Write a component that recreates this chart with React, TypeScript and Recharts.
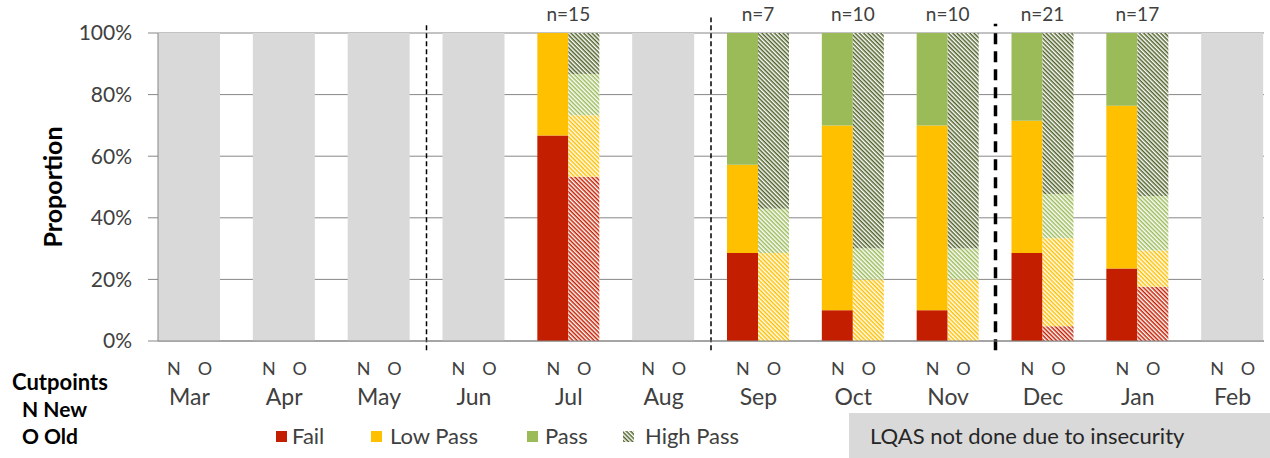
import React from 'react';
import { BarChart, Bar, XAxis, YAxis, CartesianGrid, ReferenceLine, LabelList, Cell } from 'recharts';

const months = ['Mar', 'Apr', 'May', 'Jun', 'Jul', 'Aug', 'Sep', 'Oct', 'Nov', 'Dec', 'Jan', 'Feb'];
const sampleSizes: (number | null)[] = [null, null, null, null, 15, null, 7, 10, 10, 21, 17, null];

// new cutpoints (N), percent
const newFail = [0, 0, 0, 0, 66.7, 0, 28.6, 10, 10, 28.6, 23.5, 0];
const newLow = [0, 0, 0, 0, 33.3, 0, 28.6, 60, 60, 42.9, 52.9, 0];
const newPass = [0, 0, 0, 0, 0, 0, 42.8, 30, 30, 28.5, 23.6, 0];

// old cutpoints (O), percent
const oldFail = [0, 0, 0, 0, 53.3, 0, 0, 0, 0, 4.8, 17.6, 0];
const oldLow = [0, 0, 0, 0, 20, 0, 28.6, 20, 20, 28.6, 11.8, 0];
const oldPass = [0, 0, 0, 0, 13.4, 0, 14.3, 10, 10, 14.3, 17.7, 0];
const oldHigh = [0, 0, 0, 0, 13.3, 0, 57.1, 70, 70, 52.3, 52.9, 0];

const yTicks = [0, 20, 40, 60, 80, 100];

const FONT = 'Lato, "Open Sans", sans-serif';
const TEXT = '#404040';
const RED = '#C41E00';
const YELLOW = '#FFC000';
const GREEN = '#9BBB59';
const DARK = '#4F6228';
const GRAY = '#D9D9D9';
const AXIS = '#878787';

const chartData = months.map((m, i) => ({
    month: m,
    bg: 100,
    nLabel: sampleSizes[i] ? `n=${sampleSizes[i]}` : '',
    newFail: newFail[i],
    newLow: newLow[i],
    newPass: newPass[i],
    oldFail: oldFail[i],
    oldLow: oldLow[i],
    oldPass: oldPass[i],
    oldHigh: oldHigh[i],
}));

const Hatch = ({ id, color }: { id: string; color: string }) => (
    <pattern id={id} patternUnits="userSpaceOnUse" width="3" height="3" patternTransform="rotate(45)">
        <rect width="3" height="3" fill="#fff" />
        <rect width="3" height="1.5" fill={color} />
    </pattern>
);

const MonthTick = (props: any) => {
    const { x, y, payload } = props;
    return (
        <g fontFamily={FONT} fill={TEXT}>
            <text x={x - 15.5} y={y + 27} textAnchor="middle" dominantBaseline="central" fontSize={18} fill={TEXT}>N</text>
            <text x={x + 15.5} y={y + 27} textAnchor="middle" dominantBaseline="central" fontSize={18} fill={TEXT}>O</text>
            <text x={x} y={y + 55} textAnchor="middle" dominantBaseline="central" fontSize={23} fill={TEXT}>{payload.value}</text>
        </g>
    );
};

const legendItems = [
    { label: 'Fail', fill: RED, left: 276, textLeft: 292 },
    { label: 'Low Pass', fill: YELLOW, left: 371, textLeft: 390 },
    { label: 'Pass', fill: GREEN, left: 527, textLeft: 545 },
    { label: 'High Pass', fill: 'url(#legendHatch)', left: 623, textLeft: 645 },
];

const lineText = (center: number, size: number): React.CSSProperties => ({
    position: 'absolute',
    top: center - 15,
    height: 30,
    lineHeight: '30px',
    fontSize: size,
    whiteSpace: 'nowrap',
});

export default function App() {
    return (
        <div style={{ position: 'fixed', left: 0, top: 0, width: 1270, height: 458, background: '#fff', overflow: 'hidden', fontFamily: FONT }}>
            <BarChart
                width={1270}
                height={458}
                data={chartData}
                margin={{ top: 33, right: 6, bottom: 57, left: 0 }}
                barGap={0}
            >
                <defs>
                    <Hatch id="hRed" color={RED} />
                    <Hatch id="hYellow" color={YELLOW} />
                    <Hatch id="hGreen" color={GREEN} />
                    <Hatch id="hDark" color={DARK} />
                </defs>
                <CartesianGrid xAxisId="main" vertical={false} stroke={AXIS} strokeWidth={1} />
                <XAxis
                    xAxisId="main"
                    dataKey="month"
                    height={60}
                    padding={{ left: -16, right: -16 }}
                    axisLine={{ stroke: AXIS }}
                    tickLine={false}
                    tickSize={0}
                    tickMargin={0}
                    tick={<MonthTick />}
                    interval={0}
                />
                <XAxis xAxisId="bg" dataKey="month" hide height={0} padding={{ left: -16, right: -16 }} />
                <YAxis
                    width={158}
                    domain={[0, 100]}
                    ticks={yTicks}
                    tickFormatter={(v: number) => `${v}%`}
                    axisLine={{ stroke: AXIS }}
                    tickLine={{ stroke: AXIS }}
                    tickSize={10}
                    tickMargin={16}
                    tick={{ fontSize: 21, fill: TEXT, fontFamily: FONT }}
                />

                <Bar xAxisId="bg" dataKey="bg" barSize={62} isAnimationActive={false}>
                    {chartData.map((d, i) => (
                        <Cell key={i} fill={d.nLabel ? 'transparent' : GRAY} />
                    ))}
                    <LabelList dataKey="nLabel" position="top" offset={12} fill={TEXT} fontSize={19} fontFamily={FONT} />
                </Bar>

                <Bar xAxisId="main" dataKey="newFail" stackId="N" barSize={31} fill={RED} isAnimationActive={false} />
                <Bar xAxisId="main" dataKey="newLow" stackId="N" barSize={31} fill={YELLOW} isAnimationActive={false} />
                <Bar xAxisId="main" dataKey="newPass" stackId="N" barSize={31} fill={GREEN} isAnimationActive={false} />

                <Bar xAxisId="main" dataKey="oldFail" stackId="O" barSize={31} fill="url(#hRed)" isAnimationActive={false} />
                <Bar xAxisId="main" dataKey="oldLow" stackId="O" barSize={31} fill="url(#hYellow)" isAnimationActive={false} />
                <Bar xAxisId="main" dataKey="oldPass" stackId="O" barSize={31} fill="url(#hGreen)" isAnimationActive={false} />
                <Bar xAxisId="main" dataKey="oldHigh" stackId="O" barSize={31} fill="url(#hDark)" isAnimationActive={false} />

                <ReferenceLine xAxisId="main" segment={[{ x: 'May', y: -3 }, { x: 'May', y: 103 }]} position="end" ifOverflow="visible" stroke="#000" strokeWidth={1.5} strokeDasharray="5 3" />
                <ReferenceLine xAxisId="main" segment={[{ x: 'Aug', y: -3 }, { x: 'Aug', y: 105 }]} position="end" ifOverflow="visible" stroke="#000" strokeWidth={1.5} strokeDasharray="5 3" />
                <ReferenceLine xAxisId="main" segment={[{ x: 'Nov', y: -3 }, { x: 'Nov', y: 103 }]} position="end" ifOverflow="visible" stroke="#000" strokeWidth={3.5} strokeDasharray="11 7" />
            </BarChart>

            <div style={{ position: 'absolute', left: 52, top: 187, transform: 'translate(-50%, -50%) rotate(-90deg)', fontSize: 25, fontWeight: 'bold', color: '#000', whiteSpace: 'nowrap' }}>
                Proportion
            </div>

            <div style={{ ...lineText(382, 22), left: 12, fontWeight: 'bold', color: '#000' }}>Cutpoints</div>
            <div style={{ ...lineText(409, 21), left: 22, fontWeight: 'bold', color: '#000' }}>N New</div>
            <div style={{ ...lineText(436, 21), left: 22, fontWeight: 'bold', color: '#000' }}>O Old</div>

            <svg width={0} height={0} style={{ position: 'absolute' }}>
                <defs>
                    <Hatch id="legendHatch" color={DARK} />
                </defs>
            </svg>
            {legendItems.map(item => (
                <React.Fragment key={item.label}>
                    <svg width={11} height={11} style={{ position: 'absolute', left: item.left, top: 431 }}>
                        <rect width={11} height={11} fill={item.fill} />
                    </svg>
                    <div style={{ ...lineText(436, 22), left: item.textLeft, color: TEXT }}>
                        {item.label}
                    </div>
                </React.Fragment>
            ))}

            <div style={{ position: 'absolute', left: 849, top: 413, width: 421, height: 45, background: GRAY, display: 'flex', alignItems: 'center', paddingLeft: 21, boxSizing: 'border-box', fontSize: 22, color: '#262626', whiteSpace: 'nowrap' }}>
                LQAS not done due to insecurity
            </div>
        </div>
    );
}
